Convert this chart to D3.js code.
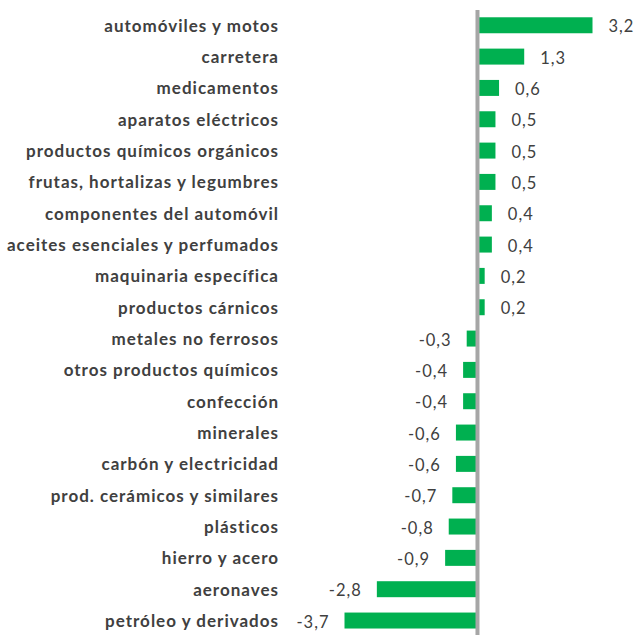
<!DOCTYPE html>
<html><head><meta charset="utf-8">
<script src="https://cdn.jsdelivr.net/npm/d3@7"></script>
<style>body{margin:0;background:#fff}svg{display:block}</style>
</head><body>
<svg id="c" width="638" height="635"></svg>
<script>
const categories = ["automóviles y motos","carretera","medicamentos","aparatos eléctricos","productos químicos orgánicos","frutas, hortalizas y legumbres","componentes del automóvil","aceites esenciales y perfumados","maquinaria específica","productos cárnicos","metales no ferrosos","otros productos químicos","confección","minerales","carbón y electricidad","prod. cerámicos y similares","plásticos","hierro y acero","aeronaves","petróleo y derivados"];
const values = [3.2,1.3,0.6,0.5,0.5,0.5,0.4,0.4,0.2,0.2,-0.3,-0.4,-0.4,-0.6,-0.6,-0.7,-0.8,-0.9,-2.8,-3.7];
const data = categories.map((c,i)=>({c, v: values[i]}));

const svg = d3.select("#c");
const x = d3.scaleLinear().domain([-3.7, 3.2]).range([344.5, 592.5]);
const y = d3.scaleBand().domain(categories).range([9.6, 636.2]).paddingInner(0.49).paddingOuter(0.245);
const fmt = v => d3.format(".1f")(v).replace(".", ",").replace("−","-");

svg.selectAll("rect.bar").data(data).join("rect").attr("class","bar")
  .attr("x", d => x(Math.min(0, d.v)))
  .attr("width", d => Math.abs(x(d.v) - x(0)))
  .attr("y", d => y(d.c))
  .attr("height", y.bandwidth())
  .attr("fill", "#00B050");

svg.append("line").attr("x1", x(0)).attr("x2", x(0)).attr("y1", 10).attr("y2", 635)
  .attr("stroke", "#A6A6A6").attr("stroke-width", 4);

svg.selectAll("text.cat").data(data).join("text").attr("class","cat")
  .attr("x", 279).attr("y", d => y(d.c) + y.bandwidth()/2)
  .attr("text-anchor","end").attr("dominant-baseline","central")
  .attr("font-family","Lato, 'Open Sans', sans-serif").attr("font-weight","bold")
  .attr("font-size", 17).attr("letter-spacing", 1).attr("fill","#404040")
  .text(d => d.c);

svg.selectAll("text.val").data(data).join("text").attr("class","val")
  .attr("x", d => d.v >= 0 ? x(d.v) + 16 : x(d.v) - 15)
  .attr("y", d => y(d.c) + y.bandwidth()/2 + 1)
  .attr("text-anchor", d => d.v >= 0 ? "start" : "end").attr("dominant-baseline","central")
  .attr("font-family","Lato, 'Open Sans', sans-serif")
  .attr("font-size", 16.5).attr("letter-spacing", 1).attr("fill","#404040")
  .text(d => fmt(d.v));
</script>
</body></html>
